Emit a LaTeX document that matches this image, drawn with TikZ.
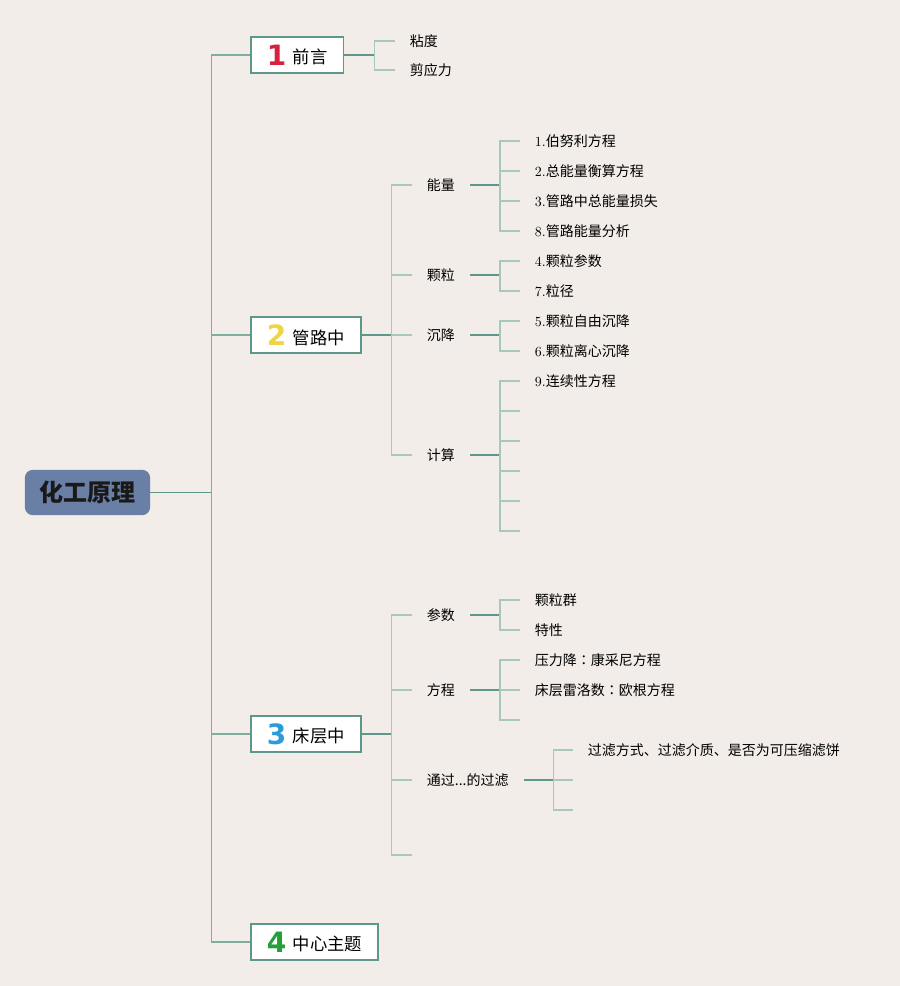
\documentclass[tikz,border=0pt]{standalone}
\usepackage{fontspec}
\newfontfamily\cjk{Noto Sans CJK SC}
\newfontfamily\cjkcolon{Noto Sans CJK JP}
\newfontfamily\numfont{DejaVu Sans}
\usepackage{tikz}
\definecolor{paper}{HTML}{F2EDE8}
\definecolor{rootblue}{HTML}{6A7FA6}
\definecolor{darkteal}{HTML}{5E9888}
\definecolor{midteal}{HTML}{7DAE9F}
\definecolor{lightteal}{HTML}{A6C9BB}
\definecolor{numred}{HTML}{D8213F}
\definecolor{numyellow}{HTML}{F0D445}
\definecolor{numblue}{HTML}{2B9BD9}
\definecolor{numgreen}{HTML}{24A03A}
\newcommand\topicnum[2]{{\numfont\bfseries\fontsize{21}{21}\selectfont\color{#1}#2}\hspace{5pt}}
\newcommand\zhcolon{{\cjkcolon ：}}

\begin{document}
\begin{tikzpicture}[
x=0.75pt, y=-0.75pt,
  rootbox/.style = {rectangle, rounded corners=6pt, fill=rootblue,% the central topic
                    minimum width=94pt, minimum height=34pt, text=black!90,
                    font=\cjk\bfseries\fontsize{18}{20}\selectfont},
 topicbox/.style = {rectangle, draw=darkteal, line width=1.2pt, fill=white,
                    minimum height=27pt, inner xsep=12pt, anchor=west,
                    font=\cjk\fontsize{13}{15}\selectfont},
  subnode/.style = {anchor=west, inner xsep=11pt, inner ysep=2pt,
                    font=\cjk\fontsize{10.5}{12}\selectfont},
 leafnode/.style = {anchor=west, inner xsep=11pt, inner ysep=2pt,
                    font=\fontsize{10.5}{12}\selectfont},
 stemline/.style = {draw=darkteal, line width=1.1pt},
trunkline/.style = {draw=midteal, line width=1.1pt},
 twigline/.style = {draw=lightteal, line width=1.1pt},
                        ]
\fill[paper] (0,0) rectangle (900,986);
% central topic and main branches
\node[rootbox] (root) at (87.5,492.5) {化工原理};
\node[topicbox] (t1) at (250,55) {\topicnum{numred}{1}\raisebox{1pt}{前言}};
\node[topicbox] (t2) at (250,335) {\topicnum{numyellow}{2}\raisebox{1pt}{管路中}};
\node[topicbox] (t3) at (250,734) {\topicnum{numblue}{3}\raisebox{1pt}{床层中}};
\node[topicbox] (t4) at (250,942) {\topicnum{numgreen}{4}\raisebox{1pt}{中心主题}};
\draw[stemline] (root.east) -- ++(61,0);
\foreach \t in {t1,t2,t3,t4}
    \draw[trunkline] (root.east) ++(61,0) |- (\t);
% 1 前言
\node[leafnode] (t1a) at (395,41) {\cjk 粘度};
\node[leafnode] (t1b) at (395,70) {\cjk 剪应力};
\draw[stemline] (t1.east) -- ++(30,0);
\foreach \c in {t1a,t1b}
    \draw[twigline] (t1.east) ++(30,0) |- (\c);
% 2 管路中
\node[subnode] (t2a) at (412,185) {能量};
\node[subnode] (t2b) at (412,275) {颗粒};
\node[subnode] (t2c) at (412,335) {沉降};
\node[subnode] (t2d) at (412,455) {计算};
\draw[stemline] (t2.east) -- ++(30,0);
\foreach \c in {t2a,t2b,t2c,t2d}
    \draw[twigline] (t2.east) ++(30,0) |- (\c);
\node[leafnode] (t2a1) at (520,141) {1.{\cjk 伯努利方程}};
\node[leafnode] (t2a2) at (520,171) {2.{\cjk 总能量衡算方程}};
\node[leafnode] (t2a3) at (520,201) {3.{\cjk 管路中总能量损失}};
\node[leafnode] (t2a4) at (520,231) {8.{\cjk 管路能量分析}};
\node[leafnode] (t2b1) at (520,261) {4.{\cjk 颗粒参数}};
\node[leafnode] (t2b2) at (520,291) {7.{\cjk 粒径}};
\node[leafnode] (t2c1) at (520,321) {5.{\cjk 颗粒自由沉降}};
\node[leafnode] (t2c2) at (520,351) {6.{\cjk 颗粒离心沉降}};
\node[leafnode] (t2d1) at (520,381) {9.{\cjk 连续性方程}};
\foreach \i/\y in {2/411,3/441,4/471,5/501,6/531}
    \coordinate (t2d\i) at (520,\y);
\foreach \p/\n in {t2a/4,t2b/2,t2c/2,t2d/6} {
    \draw[stemline] (\p.east) -- ++(30,0);
    \foreach \i in {1,...,\n}
        \draw[twigline] (\p.east) ++(30,0) |- (\p\i);
}
% 3 床层中
\node[subnode] (t3a) at (412,615) {参数};
\node[subnode] (t3b) at (412,690) {方程};
\node[subnode] (t3c) at (412,780) {通过...的过滤};
\coordinate (t3d) at (412,855);
\draw[stemline] (t3.east) -- ++(30,0);
\foreach \c in {t3a,t3b,t3c,t3d}
    \draw[twigline] (t3.east) ++(30,0) |- (\c);
\node[leafnode] (t3a1) at (520,600) {\cjk 颗粒群};
\node[leafnode] (t3a2) at (520,630) {\cjk 特性};
\node[leafnode] (t3b1) at (520,660) {\cjk 压力降\zhcolon 康采尼方程};
\node[leafnode] (t3b2) at (520,690) {\cjk 床层雷洛数\zhcolon 欧根方程};
\coordinate (t3b3) at (520,720);
\node[leafnode] (t3c1) at (573,750) {\cjk 过滤方式、过滤介质、是否为可压缩滤饼};
\coordinate (t3c2) at (573,780);
\coordinate (t3c3) at (573,810);
\foreach \p/\n in {t3a/2,t3b/3,t3c/3} {
    \draw[stemline] (\p.east) -- ++(30,0);
    \foreach \i in {1,...,\n}
        \draw[twigline] (\p.east) ++(30,0) |- (\p\i);
}
\end{tikzpicture}
\end{document}
